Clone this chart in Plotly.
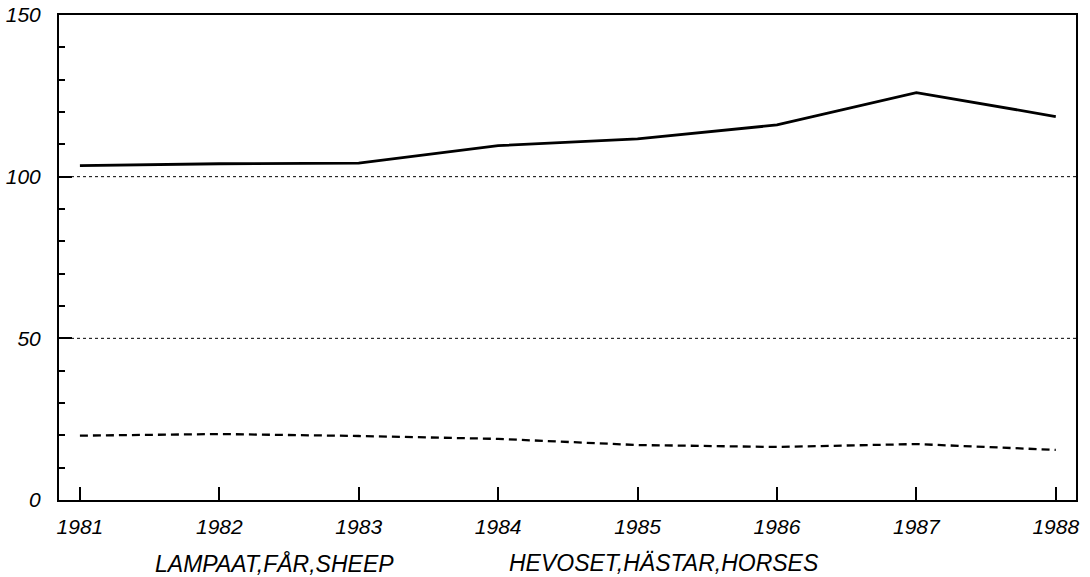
import plotly.graph_objects as go

# Values (thousands of head)
years = [1981, 1982, 1983, 1984, 1985, 1986, 1987, 1988]
sheep = [103.4, 104.0, 104.2, 109.6, 111.7, 116.0, 126.0, 118.6]
horses = [19.9, 20.4, 19.8, 18.9, 17.0, 16.4, 17.3, 15.5]
sheep_label = "LAMPAAT,FÅR,SHEEP"
horses_label = "HEVOSET,HÄSTAR,HORSES"
y_ticks = [0, 50, 100, 150]

font_family = "Liberation Sans, Arial, sans-serif"

fig = go.Figure()
fig.add_trace(go.Scatter(x=years, y=sheep, mode="lines", name=sheep_label,
                         line=dict(color="black", width=2.8)))
fig.add_trace(go.Scatter(x=years, y=horses, mode="lines", name=horses_label,
                         line=dict(color="black", width=2.3, dash="8px,5px")))

# dotted reference lines at 50 and 100
for v in [50, 100]:
    fig.add_hline(y=v, line=dict(color="black", width=1, dash="dot"), layer="below")

fig.update_xaxes(range=[1980.85, 1988.145], tickvals=years, ticks="inside", ticklen=13,
                 tickwidth=1.5, tickcolor="black", showline=True, linecolor="black",
                 linewidth=2, mirror=True, showgrid=False, zeroline=False, automargin=False,
                 tickfont=dict(family=font_family, size=21, color="black", style="italic"),
                 ticklabelstandoff=7, ticklabeloverflow="allow")
fig.update_yaxes(range=[0, 150], tickvals=y_ticks, ticks="inside", ticklen=13,
                 tickwidth=1.5, tickcolor="black", showline=True, linecolor="black",
                 linewidth=2, mirror=True, showgrid=False, zeroline=False, automargin=False,
                 minor=dict(dtick=10, ticks="inside", ticklen=6, tickwidth=1.5,
                            tickcolor="black", showgrid=False),
                 tickfont=dict(family=font_family, size=21, color="black", style="italic"),
                 ticklabelstandoff=12, ticklabeloverflow="allow")

# legend as plain text under the axis
for label, xpos in [(sheep_label, 0.212), (horses_label, 0.595)]:
    fig.add_annotation(text=label, x=xpos, y=-0.13, xref="paper", yref="paper",
                       showarrow=False, xanchor="center", yanchor="middle",
                       font=dict(family=font_family, size=23, color="black", style="italic"))

fig.update_layout(width=1090, height=577, showlegend=False,
                  plot_bgcolor="white", paper_bgcolor="white",
                  margin=dict(l=59, r=14, t=15, b=77))

# drop the default page margin so the figure fills the window exactly
fig.write_html("out.html", config={"displayModeBar": False},
               post_script="document.body.style.margin='0';")
